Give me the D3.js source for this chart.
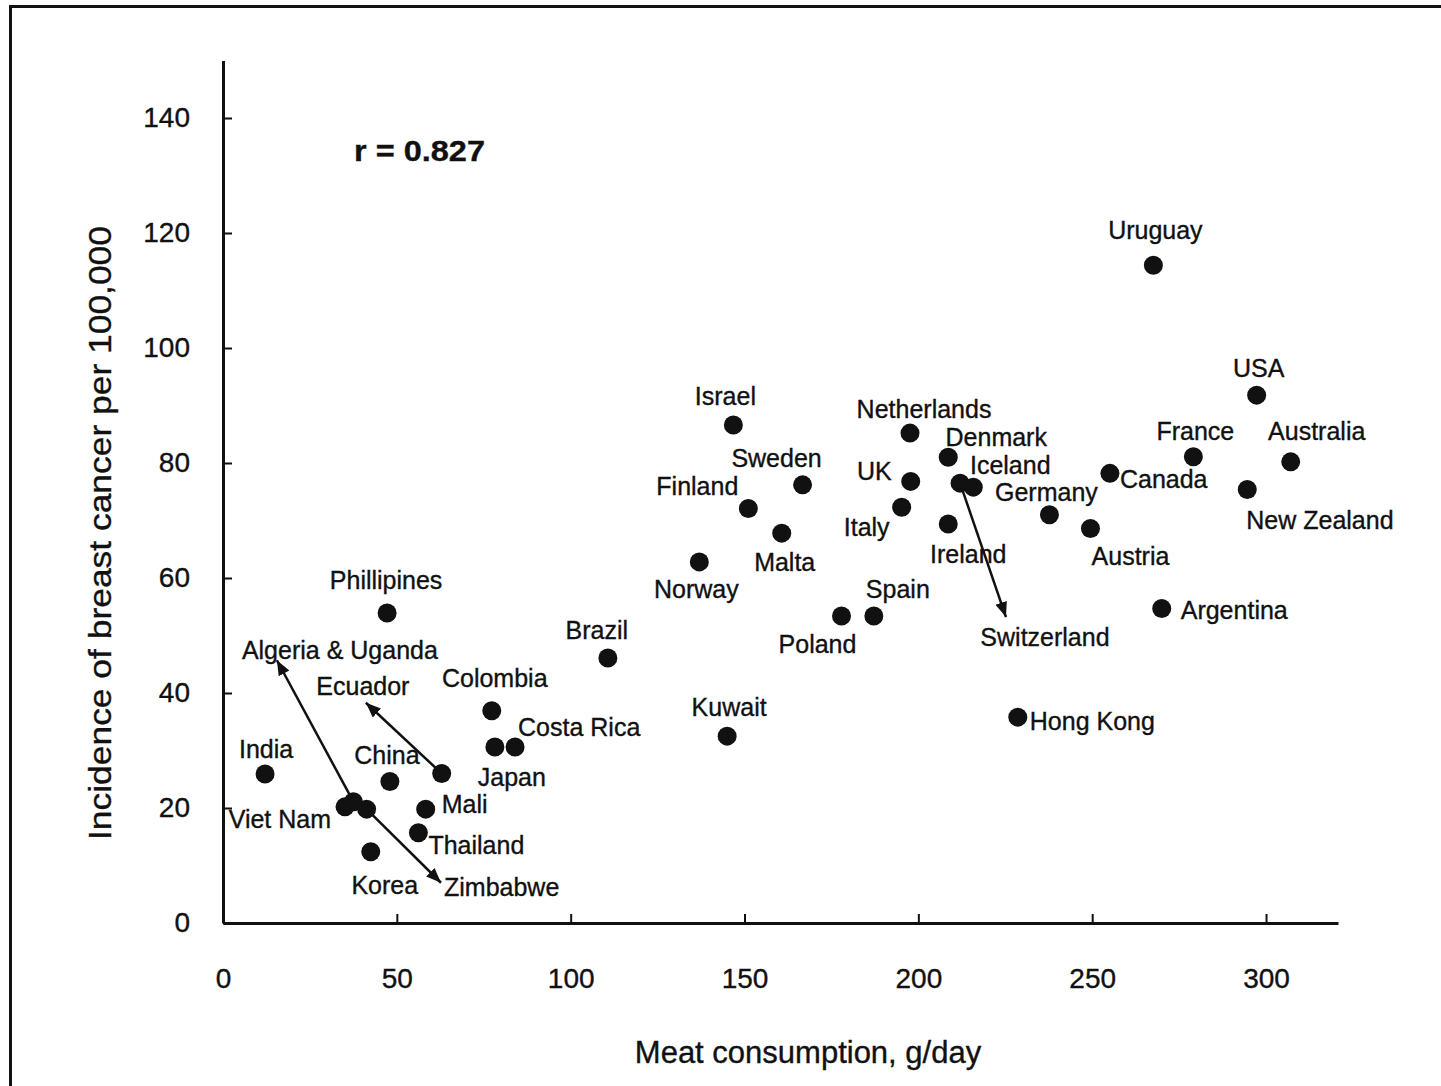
<!DOCTYPE html>
<html>
<head>
<meta charset="utf-8">
<script src="https://cdn.jsdelivr.net/npm/d3@7"></script>
<style>
  body { margin: 0; background: #fff; }
  text { font-family: "Liberation Sans", Arial, Helvetica, sans-serif; fill: #111; stroke: #111; stroke-width: 0.35px; }
</style>
</head>
<body>
<div id="chart"></div>
<script>
// data
const countries = ['Uruguay', 'USA', 'Australia', 'France', 'New Zealand', 'Canada', 'Argentina',
  'Hong Kong', 'Austria', 'Germany', 'Iceland', 'Denmark', 'Netherlands', 'UK', 'Italy', 'Ireland',
  'Spain', 'Poland', 'Israel', 'Sweden', 'Finland', 'Malta', 'Norway', 'Kuwait', 'Brazil',
  'Costa Rica', 'Japan', 'Colombia', 'Phillipines', 'China', 'India', 'Viet Nam', 'Mali',
  'Thailand', 'Korea']
const meat = [267.6, 297.3, 307.1, 279.1, 294.6, 255.1, 270.0,
  228.6, 249.5, 237.7, 215.8, 208.6, 197.6, 197.8, 195.2, 208.6,
  187.2, 177.9, 146.8, 166.7, 151.1, 160.7, 137.0, 145.0, 110.7,
  84.0, 78.2, 77.3, 47.2, 48.0, 12.1, 35.1, 58.3,
  56.2, 42.5]
const incidence = [114.4, 91.8, 80.2, 81.1, 75.4, 78.2, 54.7,
  35.8, 68.6, 71.0, 75.8, 81.0, 85.2, 76.8, 72.3, 69.4,
  53.4, 53.4, 86.6, 76.2, 72.1, 67.8, 62.8, 32.5, 46.1,
  30.6, 30.6, 36.9, 53.9, 24.6, 25.9, 20.2, 19.8,
  15.7, 12.4]

// countries whose value moved: dot, then arrow tip
const moved = ['Algeria & Uganda', 'Ecuador', 'Zimbabwe', 'Switzerland']
const movedMeat = [37.5, 62.9, 41.3, 212.0]
const movedIncidence = [21.1, 26.0, 19.8, 76.5]
const tipMeat = [15.5, 41.1, 62.7, 225.2]
const tipIncidence = [45.7, 38.3, 7.0, 53.2]

const xTicks = [0, 50, 100, 150, 200, 250, 300]
const yTicks = [0, 20, 40, 60, 80, 100, 120, 140]
const rText = 'r = 0.827'

// label placement (pixels from the dot / arrow tip)
const labelPos = {
  'Uruguay': [2, -26, 'middle'], 'USA': [2, -18, 'middle'], 'Australia': [26, -22, 'middle'],
  'France': [2, -17, 'middle'], 'New Zealand': [-1, 40, 'start'], 'Canada': [10, 15, 'start'],
  'Argentina': [19, 11, 'start'], 'Hong Kong': [12, 13, 'start'], 'Austria': [40, 36, 'middle'],
  'Germany': [-3, -14, 'middle'], 'Iceland': [37, -13, 'middle'], 'Denmark': [48, -11, 'middle'],
  'Netherlands': [14, -15, 'middle'], 'UK': [-19, -1, 'end'], 'Italy': [-35, 29, 'middle'],
  'Ireland': [20, 39, 'middle'], 'Spain': [24, -18, 'middle'], 'Poland': [-24, 37, 'middle'],
  'Israel': [-8, -20, 'middle'], 'Sweden': [-26, -18, 'middle'], 'Finland': [-51, -13, 'middle'],
  'Malta': [3, 38, 'middle'], 'Norway': [-3, 36, 'middle'], 'Kuwait': [2, -20, 'middle'],
  'Brazil': [-11, -19, 'middle'], 'Costa Rica': [3, -11, 'start'], 'Japan': [17, 39, 'middle'],
  'Colombia': [3, -24, 'middle'], 'Phillipines': [-1, -24, 'middle'], 'China': [-3, -18, 'middle'],
  'India': [1, -16, 'middle'], 'Viet Nam': [-14, 21, 'end'], 'Mali': [16, 4, 'start'],
  'Thailand': [10, 21, 'start'], 'Korea': [14, 42, 'middle'],
  'Algeria & Uganda': [63, -1, 'middle'], 'Ecuador': [-3, -8, 'middle'],
  'Zimbabwe': [3, 13, 'start'], 'Switzerland': [39, 29, 'middle']
}

const width = 1441,
  height = 1086

let x = d3.scaleLinear().domain([0, 320.7]).range([223, 1338])
let y = d3.scaleLinear().domain([0, 150]).range([923, 60.5])

let svg = d3.select('#chart')
  .append('svg')
  .attr('width', width)
  .attr('height', height)

// frame (only top and left edges show)
svg.append('rect')
  .attr('x', 10.5).attr('y', 6.5)
  .attr('width', width + 20).attr('height', height + 20)
  .attr('fill', 'none')
  .attr('stroke', '#111')
  .attr('stroke-width', 3)

svg.append('defs').append('marker')
  .attr('id', 'head')
  .attr('viewBox', '0 0 10 8')
  .attr('refX', 10).attr('refY', 4)
  .attr('markerWidth', 6).attr('markerHeight', 6)
  .attr('markerUnits', 'strokeWidth')
  .attr('orient', 'auto')
  .append('path')
  .attr('d', 'M0,0L10,4L0,8Z')
  .attr('fill', '#111')

// axes
let xAxis = svg.append('g')
  .attr('transform', `translate(0, ${y(0)})`)
  .call(d3.axisBottom(x).tickValues(xTicks).tickSizeInner(-9).tickSizeOuter(0))
let yAxis = svg.append('g')
  .attr('transform', `translate(${x(0)}, 0)`)
  .call(d3.axisLeft(y).tickValues(yTicks).tickSizeInner(-9).tickSizeOuter(0))

svg.selectAll('.domain').attr('stroke', '#111').attr('stroke-width', 3)
svg.selectAll('.tick line').attr('stroke', '#111').attr('stroke-width', 2)
svg.selectAll('.tick text').attr('font-size', 28).attr('fill', '#111')
  .attr('font-family', '"Liberation Sans", Arial, sans-serif')
xAxis.selectAll('.tick text').attr('y', 45)
yAxis.selectAll('.tick text').attr('x', -33)

// axis titles
svg.append('text')
  .attr('x', 808).attr('y', 1063)
  .attr('text-anchor', 'middle')
  .attr('font-size', 31)
  .text('Meat consumption, g/day')

svg.append('text')
  .attr('transform', `translate(111, 533) rotate(-90)`)
  .attr('text-anchor', 'middle')
  .attr('font-size', 32)
  .attr('textLength', 614)
  .attr('lengthAdjust', 'spacingAndGlyphs')
  .text('Incidence of breast cancer per 100,000')

svg.append('text')
  .attr('x', 354).attr('y', 161)
  .attr('font-size', 29)
  .attr('font-weight', 'bold')
  .attr('textLength', 131)
  .attr('lengthAdjust', 'spacingAndGlyphs')
  .text(rText)

// arrows for countries that moved
svg.selectAll('line.move')
  .data(moved)
  .enter()
  .append('line')
  .attr('class', 'move')
  .attr('x1', (d, i) => x(movedMeat[i]))
  .attr('y1', (d, i) => y(movedIncidence[i]))
  .attr('x2', (d, i) => x(tipMeat[i]))
  .attr('y2', (d, i) => y(tipIncidence[i]))
  .attr('stroke', '#111')
  .attr('stroke-width', 2.5)
  .attr('marker-end', 'url(#head)')

// dots
svg.selectAll('circle.country')
  .data(countries)
  .enter()
  .append('circle')
  .attr('class', 'country')
  .attr('cx', (d, i) => x(meat[i]))
  .attr('cy', (d, i) => y(incidence[i]))
  .attr('r', 9.5)
  .attr('fill', '#111')

svg.selectAll('circle.moved')
  .data(moved)
  .enter()
  .append('circle')
  .attr('class', 'moved')
  .attr('cx', (d, i) => x(movedMeat[i]))
  .attr('cy', (d, i) => y(movedIncidence[i]))
  .attr('r', 9.5)
  .attr('fill', '#111')

// labels
svg.selectAll('text.country')
  .data(countries)
  .enter()
  .append('text')
  .attr('class', 'country')
  .attr('x', (d, i) => x(meat[i]) + labelPos[d][0])
  .attr('y', (d, i) => y(incidence[i]) + labelPos[d][1])
  .attr('text-anchor', d => labelPos[d][2])
  .attr('font-size', 25)
  .text(d => d)

svg.selectAll('text.moved')
  .data(moved)
  .enter()
  .append('text')
  .attr('class', 'moved')
  .attr('x', (d, i) => x(tipMeat[i]) + labelPos[d][0])
  .attr('y', (d, i) => y(tipIncidence[i]) + labelPos[d][1])
  .attr('text-anchor', d => labelPos[d][2])
  .attr('font-size', 25)
  .text(d => d)
</script>
</body>
</html>
